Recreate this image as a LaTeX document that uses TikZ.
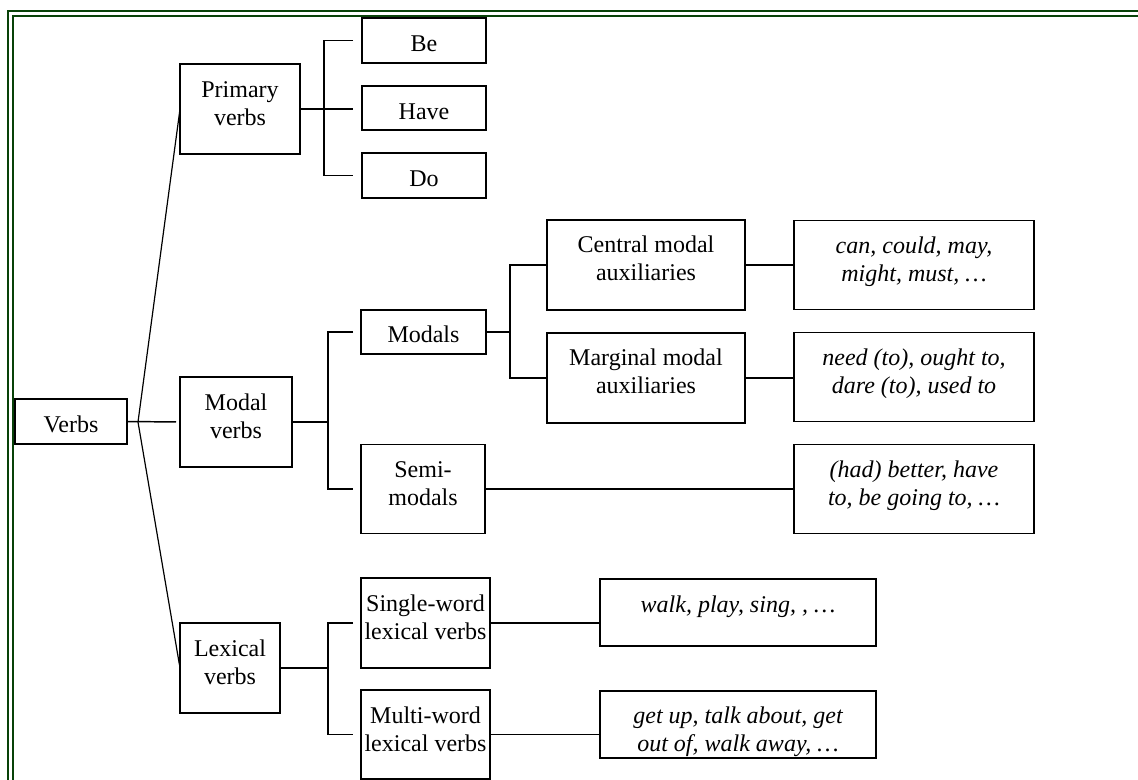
\documentclass[tikz,border=0pt]{standalone}
\usepackage{fontspec}
\setmainfont{Liberation Serif}
\definecolor{bordergreen}{RGB}{8,66,8}
\tikzset{
  bx/.style={draw, line width=1.1pt, inner sep=0pt, outer sep=0pt, rectangle},
  txt/.style={inner sep=0pt, outer sep=0pt, anchor=base, font=\fontsize{18}{21}\selectfont},
  conn/.style={line width=1.1pt},
  fan/.style={line width=0.9pt},
}
\newcommand{\tl}[1]{\begin{tabular}[t]{@{}c@{}}#1\end{tabular}}
\begin{document}
\begin{tikzpicture}[x=0.75pt,y=-0.75pt]
\useasboundingbox (0,0) rectangle (1138,779);
\fill[white] (0,0) rectangle (1138,779);
% page border
\draw[bordergreen, line width=1.8pt] (8,780) -- (8,11) -- (1139,11);
\draw[bordergreen, line width=1.5pt] (13,780) -- (13,16) -- (1139,16);

% boxes
\node[bx, minimum width=84pt, minimum height=33.75pt] (verbs) at (71,421.5) {};
\node[bx, minimum width=90pt, minimum height=67.5pt] (primary) at (240,109) {};
\node[bx, minimum width=84pt, minimum height=67.5pt] (modalv) at (236,422) {};
\node[bx, minimum width=75pt, minimum height=67.5pt] (lexical) at (230,668) {};
\node[bx, minimum width=93pt, minimum height=33.75pt] (be) at (424,40.5) {};
\node[bx, minimum width=93pt, minimum height=33pt] (have) at (424,108) {};
\node[bx, minimum width=93pt, minimum height=33.75pt] (do) at (424,175.5) {};
\node[bx, minimum width=93.75pt, minimum height=33pt] (modals) at (423.5,332) {};
\node[bx, minimum width=93pt, minimum height=66.75pt] (semi) at (423,489) {};
\node[bx, minimum width=148.5pt, minimum height=67.5pt] (central) at (646,265) {};
\node[bx, minimum width=148.5pt, minimum height=67.5pt] (marginal) at (646,378) {};
\node[bx, minimum width=180pt, minimum height=66.75pt] (can) at (914,265) {};
\node[bx, minimum width=180pt, minimum height=66.75pt] (need) at (914,377) {};
\node[bx, minimum width=180pt, minimum height=66.75pt] (had) at (914,489) {};
\node[bx, minimum width=96.75pt, minimum height=67.5pt] (single) at (425.5,623) {};
\node[bx, minimum width=96.75pt, minimum height=66.75pt] (multi) at (425.5,734.5) {};
\node[bx, minimum width=207pt, minimum height=50.25pt] (walk) at (738,612.5) {};
\node[bx, minimum width=207pt, minimum height=50.25pt] (getup) at (738,724.5) {};

% texts (first baseline 33px below the top edge)
\node[txt] (tverbs) at ([yshift=-24.75pt]verbs.north) {\tl{Verbs}};
\node[txt] (tprimary) at ([yshift=-24.75pt]primary.north) {\tl{Primary\\verbs}};
\node[txt] (tmodalv) at ([yshift=-24.75pt]modalv.north) {\tl{Modal\\verbs}};
\node[txt] (tlexical) at ([yshift=-24.75pt]lexical.north) {\tl{Lexical\\verbs}};
\node[txt] (tbe) at ([yshift=-24.75pt]be.north) {\tl{Be}};
\node[txt] (thave) at ([yshift=-24.75pt]have.north) {\tl{Have}};
\node[txt] (tdo) at ([yshift=-24.75pt]do.north) {\tl{Do}};
\node[txt] (tmodals) at ([yshift=-24pt]modals.north) {\tl{Modals}};
\node[txt] (tsemi) at ([yshift=-24.75pt]semi.north) {\tl{Semi-\\modals}};
\node[txt] (tcentral) at ([yshift=-24pt]central.north) {\tl{Central modal\\auxiliaries}};
\node[txt] (tmarginal) at ([yshift=-24pt]marginal.north) {\tl{Marginal modal\\auxiliaries}};
\node[txt] (tcan) at ([yshift=-24.75pt]can.north) {\itshape\tl{can, could, may,\\might, must, …}};
\node[txt] (tneed) at ([yshift=-24.75pt]need.north) {\itshape\tl{need (to), ought to,\\dare (to), used to}};
\node[txt] (thad) at ([yshift=-24.75pt]had.north) {\itshape\tl{(had) better, have\\to, be going to, …}};
\node[txt] (tsingle) at ([yshift=-24.75pt]single.north) {\tl{Single-word\\lexical verbs}};
\node[txt] (tmulti) at ([yshift=-24.75pt]multi.north) {\tl{Multi-word\\lexical verbs}};
\node[txt] (twalk) at ([yshift=-24.75pt]walk.north) {\itshape\tl{walk, play, sing, , …}};
\node[txt] (tgetup) at ([yshift=-24pt]getup.north) {\itshape\tl{get up, talk about, get\\out of, walk away, …}};

% spine coordinates
\coordinate (J) at (138,422);
\coordinate (ps) at (324,0);
\coordinate (ms) at (328,0);
\coordinate (as) at (510,0);

% root fan
\draw[conn, shorten >=3pt] (verbs.east) -- (modalv.west);
\draw[fan, shorten >=2.25pt] (J) -- (primary.west);
\draw[fan, shorten >=2.25pt] (J) -- (lexical.west);

% primary verbs bracket
\draw[conn] (primary.east) -- ([xshift=-6.75pt]primary.east -| have.west);
\draw[conn] ([xshift=-6.75pt]be.west) -- (be.west -| ps) -- (do.west -| ps) -- ([xshift=-6.75pt]do.west);

% modal verbs bracket
\draw[conn] (modalv.east) -- (modalv.east -| ms);
\draw[conn] ([xshift=-6pt]modals.west) -- (modals.west -| ms) -- (semi.west -| ms) -- ([xshift=-6pt]semi.west);

% modals bracket
\draw[conn] (modals.east) -- (modals.east -| as);
\draw[conn] (central.west) -- (central.west -| as) -- (marginal.west -| as) -- (marginal.west);

% examples
\draw[conn] (central.east) -- (central.east -| can.west);
\draw[conn] (marginal.east) -- (marginal.east -| need.west);
\draw[conn] (semi.east) -- (semi.east -| had.west);

% lexical bracket
\draw[conn] (lexical.east) -- (lexical.east -| ms);
\draw[conn] ([xshift=-6pt]single.west) -- (single.west -| ms) -- (multi.west -| ms) -- ([xshift=-6pt]multi.west);
\draw[conn] (single.east) -- (single.east -| walk.west);
\draw[conn] (multi.east) -- (multi.east -| getup.west);
\end{tikzpicture}
\end{document}
